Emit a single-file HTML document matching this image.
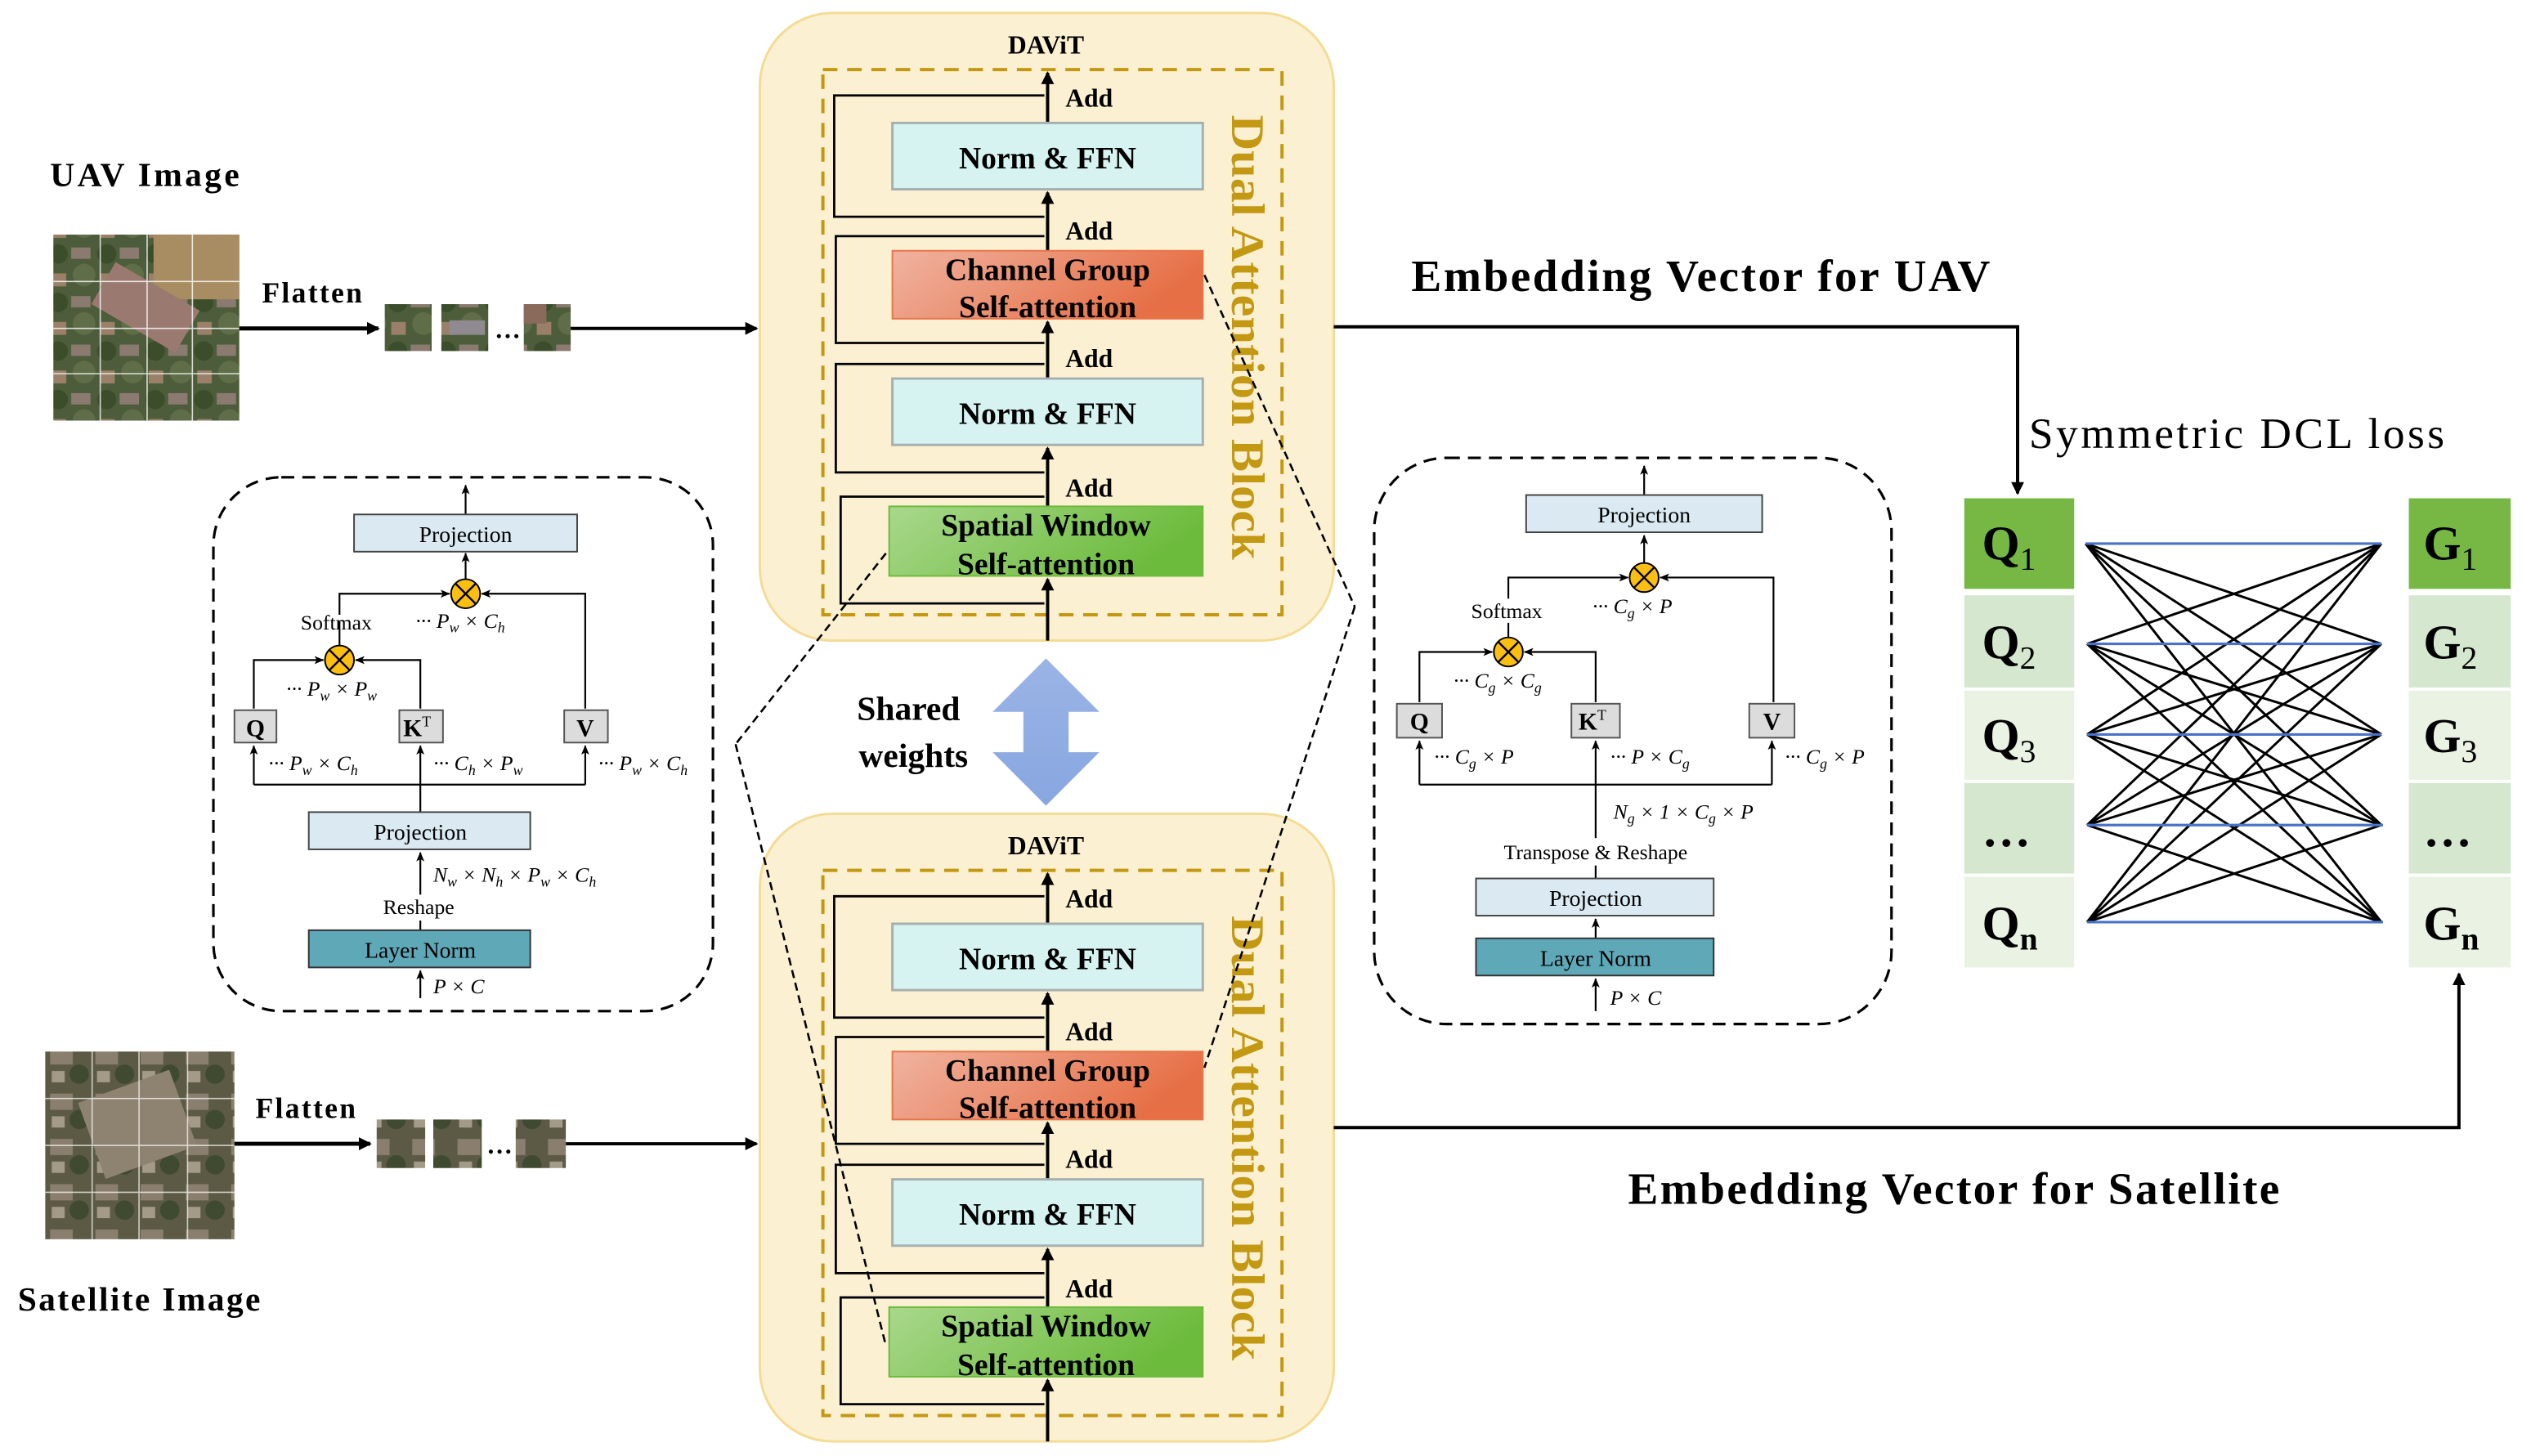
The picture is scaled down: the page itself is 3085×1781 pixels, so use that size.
<!DOCTYPE html>
<html><head><meta charset="utf-8"><style>
html,body{margin:0;padding:0;background:#fff;}
svg{display:block;}
text{font-family:"Liberation Serif","Times New Roman",serif;}
</style></head><body>
<svg width="3085" height="1781" viewBox="0 0 1560 900" preserveAspectRatio="none" xmlns="http://www.w3.org/2000/svg" font-family="'Liberation Serif', serif">
<defs>
<marker id="ah" markerWidth="8" markerHeight="8" refX="7" refY="4" orient="auto" markerUnits="userSpaceOnUse"><path d="M0,0 L8,4 L0,8 z" fill="#000"/></marker>
<marker id="ahs" markerWidth="6" markerHeight="6" refX="5.5" refY="3" orient="auto" markerUnits="userSpaceOnUse"><path d="M0,0.5 L6,3 L0,5.5 L1.5,3 z" fill="#000"/></marker>
<linearGradient id="gR" x1="0" y1="0" x2="1" y2="0.3"><stop offset="0" stop-color="#f0b3a0"/><stop offset="1" stop-color="#e66f45"/></linearGradient>
<linearGradient id="gG" x1="0" y1="0" x2="1" y2="0.3"><stop offset="0" stop-color="#a9d88c"/><stop offset="1" stop-color="#6cbb3c"/></linearGradient>
<linearGradient id="gB" x1="0" y1="0" x2="0" y2="1"><stop offset="0" stop-color="#9bb4e6"/><stop offset="1" stop-color="#88a6e0"/></linearGradient>
<pattern id="aer" width="30" height="30" patternUnits="userSpaceOnUse">
<rect width="30" height="30" fill="#4d5c3a"/><circle cx="6" cy="7" r="6" fill="#3c4d2c"/><circle cx="22" cy="20" r="7" fill="#5f6e48"/><rect x="14" y="3" width="12" height="7" fill="#8a7a70"/><rect x="2" y="19" width="9" height="8" fill="#9a8068"/></pattern>
<pattern id="sat" width="28" height="28" patternUnits="userSpaceOnUse">
<rect width="28" height="28" fill="#5c5a44"/><rect x="3" y="4" width="14" height="10" fill="#8a7f6e"/><circle cx="21" cy="20" r="6" fill="#3f4a30"/><rect x="4" y="18" width="8" height="7" fill="#a39a88"/></pattern>
</defs>

<!-- ================= LEFT IMAGES ================= -->
<text x="31" y="115" font-size="21" font-weight="bold" textLength="117">UAV Image</text>
<rect x="33" y="145" width="115" height="115" fill="url(#aer)"/>
<rect x="95" y="145" width="53" height="40" fill="#a88c62"/>
<rect x="60" y="175" width="60" height="30" fill="#9a7a70" transform="rotate(30 90 190)"/>
<g stroke="#fff" stroke-width="0.8" opacity="0.8"><line x1="62" y1="145" x2="62" y2="260"/><line x1="91" y1="145" x2="91" y2="260"/><line x1="119" y1="145" x2="119" y2="260"/><line x1="33" y1="174" x2="148" y2="174"/><line x1="33" y1="203" x2="148" y2="203"/><line x1="33" y1="231" x2="148" y2="231"/></g>
<text x="162" y="187" font-size="18" font-weight="bold" textLength="62">Flatten</text>
<line x1="148" y1="203" x2="234" y2="203" stroke="#000" stroke-width="2.5" marker-end="url(#ah)"/>
<rect x="238" y="188" width="29" height="29" fill="url(#aer)"/>
<rect x="273" y="188" width="29" height="29" fill="url(#aer)"/><rect x="278" y="198" width="22" height="9" fill="#8f8a90"/>
<text x="306" y="209" font-size="16" font-weight="bold">…</text>
<rect x="324" y="188" width="29" height="29" fill="url(#aer)"/><rect x="324" y="188" width="14" height="12" fill="#8a6a5a"/>
<line x1="353" y1="203" x2="468" y2="203" stroke="#000" stroke-width="2" marker-end="url(#ah)"/>

<text x="11" y="810" font-size="21" font-weight="bold" textLength="150">Satellite Image</text>
<rect x="28" y="650" width="117" height="116" fill="url(#sat)"/>
<rect x="55" y="670" width="60" height="50" fill="#8e8270" transform="rotate(-20 85 695)"/>
<g stroke="#fff" stroke-width="0.8" opacity="0.7"><line x1="57" y1="650" x2="57" y2="766"/><line x1="86" y1="650" x2="86" y2="766"/><line x1="116" y1="650" x2="116" y2="766"/><line x1="28" y1="679" x2="145" y2="679"/><line x1="28" y1="708" x2="145" y2="708"/><line x1="28" y1="737" x2="145" y2="737"/></g>
<text x="158" y="691" font-size="18" font-weight="bold" textLength="62">Flatten</text>
<line x1="145" y1="707" x2="229" y2="707" stroke="#000" stroke-width="2.5" marker-end="url(#ah)"/>
<rect x="233" y="692" width="30" height="30" fill="url(#sat)"/>
<rect x="268" y="692" width="30" height="30" fill="url(#sat)"/>
<text x="301" y="713" font-size="16" font-weight="bold">…</text>
<rect x="319" y="692" width="31" height="30" fill="url(#sat)"/>
<line x1="350" y1="707" x2="468" y2="707" stroke="#000" stroke-width="2" marker-end="url(#ah)"/>

<!-- ================= DAViT TOP ================= -->
<g>
<rect x="470" y="8" width="355" height="388" rx="45" fill="#fcf0d2" stroke="#f3dc95" stroke-width="1.5"/>
<text x="647" y="33" font-size="16" font-weight="bold" text-anchor="middle">DAViT</text>
<rect x="509" y="43" width="284" height="337" fill="none" stroke="#c39812" stroke-width="2" stroke-dasharray="9,6"/>
<text transform="translate(762,71) rotate(90)" font-size="29" font-weight="bold" fill="#c39812" textLength="275" lengthAdjust="spacingAndGlyphs">Dual Attention Block</text>
<g fill="none" stroke="#000" stroke-width="1.4">
<polyline points="646,134 516,134 516,59 646,59"/>
<polyline points="646,146 517,146 517,212 646,212"/>
<polyline points="646,225 517,225 517,292 646,292"/>
<polyline points="646,307 520,307 520,373 646,373"/>
</g>
<line x1="648" y1="396" x2="648" y2="358" stroke="#000" stroke-width="2" marker-end="url(#ah)"/>
<line x1="648" y1="313" x2="648" y2="277" stroke="#000" stroke-width="2" marker-end="url(#ah)"/>
<line x1="648" y1="234" x2="648" y2="199" stroke="#000" stroke-width="2" marker-end="url(#ah)"/>
<line x1="648" y1="155" x2="648" y2="119" stroke="#000" stroke-width="2" marker-end="url(#ah)"/>
<line x1="648" y1="76" x2="648" y2="45" stroke="#000" stroke-width="2" marker-end="url(#ah)"/>
<rect x="552" y="76" width="192" height="41" fill="#d7f3f1" stroke="#a6b0b0" stroke-width="1.5"/>
<text x="648" y="104" font-size="19" font-weight="bold" text-anchor="middle">Norm &amp; FFN</text>
<rect x="552" y="155" width="192" height="42" fill="url(#gR)" stroke="#e8744a" stroke-width="1"/>
<text x="648" y="173" font-size="19" font-weight="bold" text-anchor="middle">Channel Group</text>
<text x="648" y="196" font-size="19" font-weight="bold" text-anchor="middle">Self-attention</text>
<rect x="552" y="234" width="192" height="41" fill="#d7f3f1" stroke="#a6b0b0" stroke-width="1.5"/>
<text x="648" y="262" font-size="19" font-weight="bold" text-anchor="middle">Norm &amp; FFN</text>
<rect x="550" y="313" width="194" height="43" fill="url(#gG)" stroke="#6cbb3c" stroke-width="1"/>
<text x="647" y="331" font-size="19" font-weight="bold" text-anchor="middle">Spatial Window</text>
<text x="647" y="355" font-size="19" font-weight="bold" text-anchor="middle">Self-attention</text>
<g font-size="16" font-weight="bold"><text x="659" y="66">Add</text><text x="659" y="148">Add</text><text x="659" y="227">Add</text><text x="659" y="307">Add</text></g>
</g>

<!-- ================= DAViT BOTTOM ================= -->
<g transform="translate(0,495)">
<rect x="470" y="8" width="355" height="388" rx="45" fill="#fcf0d2" stroke="#f3dc95" stroke-width="1.5"/>
<text x="647" y="33" font-size="16" font-weight="bold" text-anchor="middle">DAViT</text>
<rect x="509" y="43" width="284" height="337" fill="none" stroke="#c39812" stroke-width="2" stroke-dasharray="9,6"/>
<text transform="translate(762,71) rotate(90)" font-size="29" font-weight="bold" fill="#c39812" textLength="275" lengthAdjust="spacingAndGlyphs">Dual Attention Block</text>
<g fill="none" stroke="#000" stroke-width="1.4">
<polyline points="646,134 516,134 516,59 646,59"/>
<polyline points="646,146 517,146 517,212 646,212"/>
<polyline points="646,225 517,225 517,292 646,292"/>
<polyline points="646,307 520,307 520,373 646,373"/>
</g>
<line x1="648" y1="396" x2="648" y2="358" stroke="#000" stroke-width="2" marker-end="url(#ah)"/>
<line x1="648" y1="313" x2="648" y2="277" stroke="#000" stroke-width="2" marker-end="url(#ah)"/>
<line x1="648" y1="234" x2="648" y2="199" stroke="#000" stroke-width="2" marker-end="url(#ah)"/>
<line x1="648" y1="155" x2="648" y2="119" stroke="#000" stroke-width="2" marker-end="url(#ah)"/>
<line x1="648" y1="76" x2="648" y2="45" stroke="#000" stroke-width="2" marker-end="url(#ah)"/>
<rect x="552" y="76" width="192" height="41" fill="#d7f3f1" stroke="#a6b0b0" stroke-width="1.5"/>
<text x="648" y="104" font-size="19" font-weight="bold" text-anchor="middle">Norm &amp; FFN</text>
<rect x="552" y="155" width="192" height="42" fill="url(#gR)" stroke="#e8744a" stroke-width="1"/>
<text x="648" y="173" font-size="19" font-weight="bold" text-anchor="middle">Channel Group</text>
<text x="648" y="196" font-size="19" font-weight="bold" text-anchor="middle">Self-attention</text>
<rect x="552" y="234" width="192" height="41" fill="#d7f3f1" stroke="#a6b0b0" stroke-width="1.5"/>
<text x="648" y="262" font-size="19" font-weight="bold" text-anchor="middle">Norm &amp; FFN</text>
<rect x="550" y="313" width="194" height="43" fill="url(#gG)" stroke="#6cbb3c" stroke-width="1"/>
<text x="647" y="331" font-size="19" font-weight="bold" text-anchor="middle">Spatial Window</text>
<text x="647" y="355" font-size="19" font-weight="bold" text-anchor="middle">Self-attention</text>
<g font-size="16" font-weight="bold"><text x="659" y="66">Add</text><text x="659" y="148">Add</text><text x="659" y="227">Add</text><text x="659" y="307">Add</text></g>
</g>

<!-- Shared weights -->
<text x="562" y="445" font-size="21" font-weight="bold" text-anchor="middle">Shared</text>
<text x="565" y="474" font-size="21" font-weight="bold" text-anchor="middle">weights</text>
<path d="M647,407 L680,440 L661,440 L661,465 L680,465 L647,498 L614,465 L633,465 L633,440 L614,440 Z" fill="url(#gB)"/>

<!-- zoom dashed connectors -->
<g stroke="#000" stroke-width="1.3" stroke-dasharray="5,3" fill="none">
<line x1="548" y1="342" x2="455" y2="460"/>
<line x1="455" y1="460" x2="548" y2="832"/>
<line x1="745" y1="170" x2="838" y2="375"/>
<line x1="838" y1="375" x2="745" y2="660"/>
</g>

<!-- ================= LEFT PANEL ================= -->
<rect x="132" y="295" width="309" height="330" rx="42" fill="none" stroke="#000" stroke-width="1.6" stroke-dasharray="8,5"/>
<g stroke="#000" stroke-width="1.1" fill="none">
<line x1="288" y1="318" x2="288" y2="300" marker-end="url(#ahs)"/>
<line x1="288" y1="358" x2="288" y2="342" marker-end="url(#ahs)"/>
<polyline points="210,380 210,367 278,367" marker-end="url(#ahs)"/>
<polyline points="362,438 362,367 298,367" marker-end="url(#ahs)"/>
<line x1="210" y1="399" x2="210" y2="384"/>
<polyline points="157,438 157,408 200,408" marker-end="url(#ahs)"/>
<polyline points="260,438 260,408 220,408" marker-end="url(#ahs)"/>
<polyline points="157,485 362,485"/>
<line x1="157" y1="485" x2="157" y2="461" marker-end="url(#ahs)"/>
<line x1="260" y1="502" x2="260" y2="461" marker-end="url(#ahs)"/>
<line x1="362" y1="485" x2="362" y2="461" marker-end="url(#ahs)"/>
<line x1="260" y1="553" x2="260" y2="527" marker-end="url(#ahs)"/>
<line x1="260" y1="575" x2="260" y2="569"/>
<line x1="260" y1="617" x2="260" y2="600" marker-end="url(#ahs)"/>
</g>
<rect x="219" y="318" width="138" height="23" fill="#dbeaf2" stroke="#444" stroke-width="1"/>
<text x="288" y="335" font-size="14" text-anchor="middle">Projection</text>
<g><circle cx="288" cy="367" r="9" fill="#fbbf12" stroke="#000" stroke-width="1"/><path d="M282,361 L294,373 M294,361 L282,373" stroke="#000" stroke-width="1.2"/></g>
<g><circle cx="210" cy="408" r="9" fill="#fbbf12" stroke="#000" stroke-width="1"/><path d="M204,402 L216,414 M216,402 L204,414" stroke="#000" stroke-width="1.2"/></g>
<text x="208" y="389" font-size="13" text-anchor="middle">Softmax</text>
<g font-size="13" font-style="italic">
<text x="257" y="388">··· P<tspan font-size="9" dy="3">w</tspan><tspan dy="-3"> × C</tspan><tspan font-size="9" dy="3">h</tspan></text>
<text x="177" y="430">··· P<tspan font-size="9" dy="3">w</tspan><tspan dy="-3"> × P</tspan><tspan font-size="9" dy="3">w</tspan></text>
<text x="166" y="476">··· P<tspan font-size="9" dy="3">w</tspan><tspan dy="-3"> × C</tspan><tspan font-size="9" dy="3">h</tspan></text>
<text x="268" y="476">··· C<tspan font-size="9" dy="3">h</tspan><tspan dy="-3"> × P</tspan><tspan font-size="9" dy="3">w</tspan></text>
<text x="370" y="476">··· P<tspan font-size="9" dy="3">w</tspan><tspan dy="-3"> × C</tspan><tspan font-size="9" dy="3">h</tspan></text>
<text x="268" y="545">N<tspan font-size="9" dy="3">w</tspan><tspan dy="-3"> × N</tspan><tspan font-size="9" dy="3">h</tspan><tspan dy="-3"> × P</tspan><tspan font-size="9" dy="3">w</tspan><tspan dy="-3"> × C</tspan><tspan font-size="9" dy="3">h</tspan></text>
<text x="268" y="614">P × C</text>
</g>
<rect x="145" y="439" width="26" height="20" fill="#dcdcdc" stroke="#555" stroke-width="1"/><text x="158" y="455" font-size="15" font-weight="bold" text-anchor="middle">Q</text>
<rect x="247" y="439" width="27" height="20" fill="#dcdcdc" stroke="#555" stroke-width="1"/><text x="258" y="455" font-size="15" font-weight="bold" text-anchor="middle">K<tspan font-size="9" dy="-6" font-weight="normal">T</tspan></text>
<rect x="349" y="439" width="27" height="20" fill="#dcdcdc" stroke="#555" stroke-width="1"/><text x="362" y="455" font-size="15" font-weight="bold" text-anchor="middle">V</text>
<rect x="191" y="502" width="137" height="23" fill="#dbeaf2" stroke="#444" stroke-width="1"/>
<text x="260" y="519" font-size="14" text-anchor="middle">Projection</text>
<text x="259" y="565" font-size="13" text-anchor="middle">Reshape</text>
<rect x="191" y="575" width="137" height="23" fill="#5fa8b8" stroke="#333" stroke-width="1"/>
<text x="260" y="592" font-size="14" text-anchor="middle">Layer Norm</text>

<!-- ================= RIGHT PANEL ================= -->
<rect x="850" y="283" width="320" height="350" rx="45" fill="none" stroke="#000" stroke-width="1.6" stroke-dasharray="8,5"/>
<g stroke="#000" stroke-width="1.1" fill="none">
<line x1="1017" y1="306" x2="1017" y2="288" marker-end="url(#ahs)"/>
<line x1="1017" y1="348" x2="1017" y2="331" marker-end="url(#ahs)"/>
<polyline points="933,370 933,357 1007,357" marker-end="url(#ahs)"/>
<polyline points="1097,434 1097,357 1027,357" marker-end="url(#ahs)"/>
<line x1="933" y1="394" x2="933" y2="385"/>
<polyline points="878,434 878,403 923,403" marker-end="url(#ahs)"/>
<polyline points="987,434 987,403 943,403" marker-end="url(#ahs)"/>
<polyline points="878,485 1096,485"/>
<line x1="878" y1="485" x2="878" y2="458" marker-end="url(#ahs)"/>
<line x1="987" y1="518" x2="987" y2="458" marker-end="url(#ahs)"/>
<line x1="1096" y1="485" x2="1096" y2="458" marker-end="url(#ahs)"/>
<line x1="987" y1="543" x2="987" y2="535"/>
<line x1="987" y1="580" x2="987" y2="568" marker-end="url(#ahs)"/>
<line x1="987" y1="625" x2="987" y2="605" marker-end="url(#ahs)"/>
</g>
<rect x="944" y="306" width="146" height="23" fill="#dbeaf2" stroke="#444" stroke-width="1"/>
<text x="1017" y="323" font-size="14" text-anchor="middle">Projection</text>
<g><circle cx="1017" cy="357" r="9" fill="#fbbf12" stroke="#000" stroke-width="1"/><path d="M1011,351 L1023,363 M1023,351 L1011,363" stroke="#000" stroke-width="1.2"/></g>
<g><circle cx="933" cy="403" r="9" fill="#fbbf12" stroke="#000" stroke-width="1"/><path d="M927,397 L939,409 M939,397 L927,409" stroke="#000" stroke-width="1.2"/></g>
<text x="932" y="382" font-size="13" text-anchor="middle">Softmax</text>
<g font-size="13" font-style="italic">
<text x="985" y="379">··· C<tspan font-size="9" dy="3">g</tspan><tspan dy="-3"> × P</tspan></text>
<text x="899" y="425">··· C<tspan font-size="9" dy="3">g</tspan><tspan dy="-3"> × C</tspan><tspan font-size="9" dy="3">g</tspan></text>
<text x="887" y="472">··· C<tspan font-size="9" dy="3">g</tspan><tspan dy="-3"> × P</tspan></text>
<text x="996" y="472">··· P × C<tspan font-size="9" dy="3">g</tspan></text>
<text x="1104" y="472">··· C<tspan font-size="9" dy="3">g</tspan><tspan dy="-3"> × P</tspan></text>
<text x="998" y="506">N<tspan font-size="9" dy="3">g</tspan><tspan dy="-3"> × 1 × C</tspan><tspan font-size="9" dy="3">g</tspan><tspan dy="-3"> × P</tspan></text>
<text x="996" y="621">P × C</text>
</g>
<rect x="864" y="435" width="28" height="21" fill="#dcdcdc" stroke="#555" stroke-width="1"/><text x="878" y="451" font-size="15" font-weight="bold" text-anchor="middle">Q</text>
<rect x="972" y="435" width="30" height="21" fill="#dcdcdc" stroke="#555" stroke-width="1"/><text x="985" y="451" font-size="15" font-weight="bold" text-anchor="middle">K<tspan font-size="9" dy="-6" font-weight="normal">T</tspan></text>
<rect x="1082" y="435" width="28" height="21" fill="#dcdcdc" stroke="#555" stroke-width="1"/><text x="1096" y="451" font-size="15" font-weight="bold" text-anchor="middle">V</text>
<text x="987" y="531" font-size="13" text-anchor="middle">Transpose &amp; Reshape</text>
<rect x="913" y="543" width="147" height="23" fill="#dbeaf2" stroke="#444" stroke-width="1"/>
<text x="987" y="560" font-size="14" text-anchor="middle">Projection</text>
<rect x="913" y="580" width="147" height="23" fill="#5fa8b8" stroke="#333" stroke-width="1"/>
<text x="987" y="597" font-size="14" text-anchor="middle">Layer Norm</text>

<!-- ================= RIGHT: embeddings & loss ================= -->
<polyline points="825,202 1248,202 1248,305" fill="none" stroke="#000" stroke-width="2" marker-end="url(#ah)"/>
<polyline points="825,697 1521,697 1521,602" fill="none" stroke="#000" stroke-width="2" marker-end="url(#ah)"/>
<text x="873" y="180" font-size="28" font-weight="bold" textLength="358">Embedding Vector for UAV</text>
<text x="1255" y="277" font-size="27" textLength="257">Symmetric DCL loss</text>
<text x="1007" y="744" font-size="28" font-weight="bold" textLength="403">Embedding Vector for Satellite</text>

<rect x="1215" y="308" width="68" height="56" fill="#76b843"/>
<rect x="1215" y="368" width="68" height="57" fill="#d5e8cf"/>
<rect x="1215" y="427" width="68" height="55" fill="#e9f2e3"/>
<rect x="1215" y="484" width="68" height="56" fill="#d5e8cf"/>
<rect x="1215" y="542" width="68" height="56" fill="#e9f2e3"/>
<rect x="1490" y="308" width="63" height="56" fill="#76b843"/>
<rect x="1490" y="368" width="63" height="57" fill="#d5e8cf"/>
<rect x="1490" y="427" width="63" height="55" fill="#e9f2e3"/>
<rect x="1490" y="484" width="63" height="56" fill="#d5e8cf"/>
<rect x="1490" y="542" width="63" height="56" fill="#e9f2e3"/>
<g font-size="30" font-weight="bold">
<text x="1226" y="346">Q<tspan font-size="20" dy="6" font-weight="normal">1</tspan></text>
<text x="1226" y="407">Q<tspan font-size="20" dy="6" font-weight="normal">2</tspan></text>
<text x="1226" y="465">Q<tspan font-size="20" dy="6" font-weight="normal">3</tspan></text>
<text x="1226" y="523">…</text>
<text x="1226" y="581">Q<tspan font-size="20" dy="6">n</tspan></text>
<text x="1499" y="346">G<tspan font-size="20" dy="6" font-weight="normal">1</tspan></text>
<text x="1499" y="407">G<tspan font-size="20" dy="6" font-weight="normal">2</tspan></text>
<text x="1499" y="465">G<tspan font-size="20" dy="6" font-weight="normal">3</tspan></text>
<text x="1499" y="523">…</text>
<text x="1499" y="581">G<tspan font-size="20" dy="6">n</tspan></text>
</g>
<g stroke="#000" stroke-width="1.5">
<path d="M1290,336 L1473,398 M1290,336 L1473,454 M1290,336 L1473,510 M1290,336 L1473,570
M1291,398 L1473,336 M1291,398 L1473,454 M1291,398 L1473,510 M1291,398 L1473,570
M1291,454 L1473,336 M1291,454 L1473,398 M1291,454 L1473,510 M1291,454 L1473,570
M1291,510 L1473,336 M1291,510 L1473,398 M1291,510 L1473,454 M1291,510 L1473,570
M1291,570 L1473,336 M1291,570 L1473,398 M1291,570 L1473,454 M1291,570 L1473,510"/>
</g>
<g stroke="#4a72c8" stroke-width="1.6">
<line x1="1290" y1="336" x2="1473" y2="336"/><line x1="1291" y1="398" x2="1473" y2="398"/><line x1="1291" y1="454" x2="1473" y2="454"/><line x1="1291" y1="510" x2="1474" y2="510"/><line x1="1291" y1="570" x2="1474" y2="570"/>
</g>
</svg>
</body></html>
